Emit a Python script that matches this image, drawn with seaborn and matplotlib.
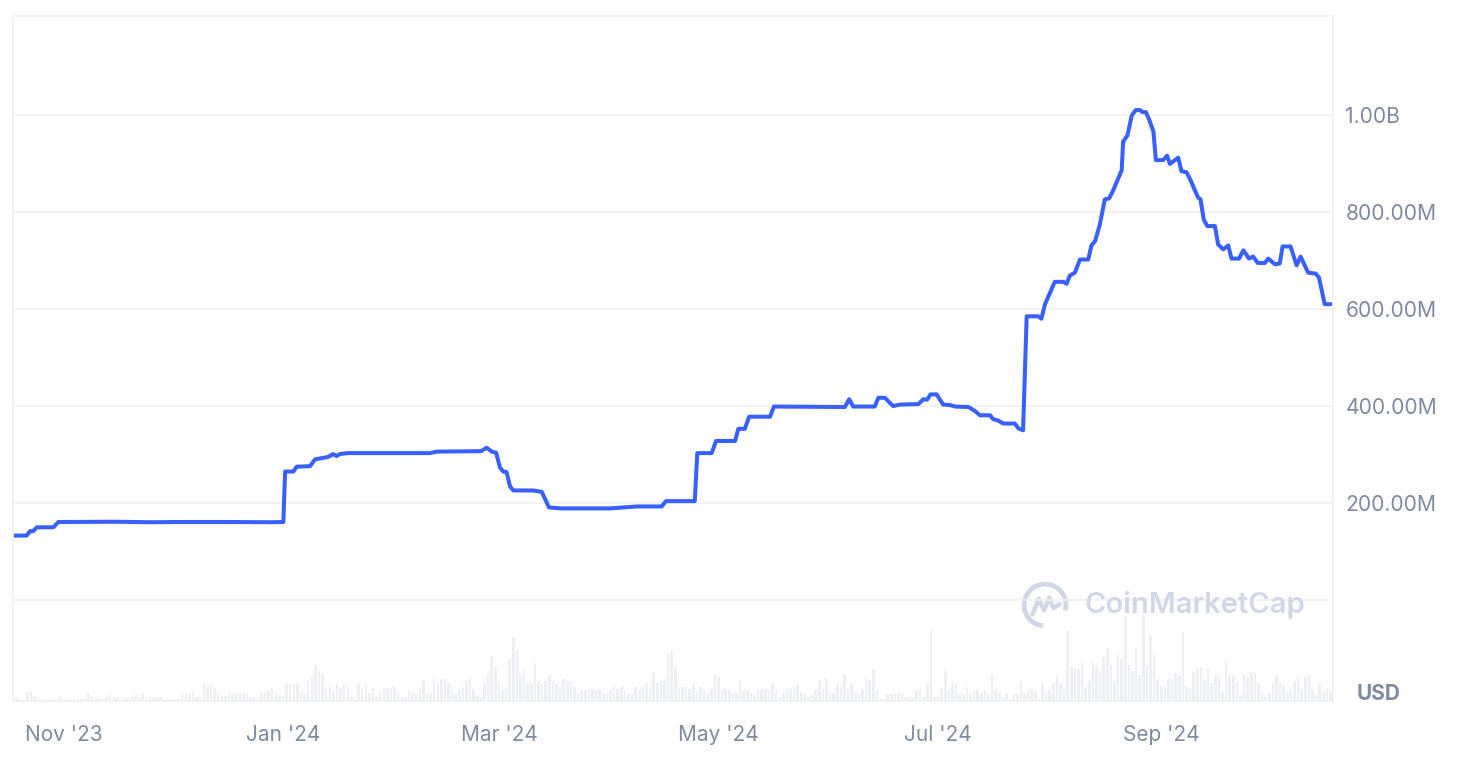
import matplotlib.pyplot as plt
from matplotlib.patches import Arc
import pandas as pd
import seaborn as sns

# market cap line: days after 2023-10-18 where the line bends, value in millions USD
start_day = '2023-10-18'
line_days = [0.0, 3.8, 4.7, 5.6, 6.6, 11.2, 12.6, 28.8, 38.0, 46.3,
             60.0, 72.0, 75.1, 75.6, 77.9, 78.8, 82.5, 83.9, 87.5, 88.9,
             89.9, 90.8, 93.1, 115.8, 117.7, 130.0, 131.6, 133.0, 134.2, 135.3,
             136.2, 137.1, 138.1, 139.0, 144.5, 146.9, 148.9, 152.4, 165.8, 173.3,
             180.2, 181.4, 189.4, 190.1, 194.1, 195.3, 200.6, 201.5, 203.3, 204.5,
             210.3, 211.4, 231.1, 232.3, 233.4, 239.4, 240.4, 242.2, 244.5, 246.4,
             251.5, 252.9, 253.9, 254.9, 256.6, 258.4, 260.3, 261.7, 265.4, 267.2,
             268.6, 271.4, 272.3, 273.7, 275.1, 278.3, 279.3, 280.6, 281.6, 284.8,
             285.7, 286.7, 289.4, 291.8, 292.7, 293.6, 295.0, 296.4, 298.7, 299.6,
             300.6, 301.9, 303.3, 304.5, 305.6, 308.0, 308.4, 309.6, 310.8, 311.9,
             313.1, 313.8, 314.7, 315.6, 316.8, 317.5, 319.5, 320.6, 321.4, 323.7,
             324.6, 326.0, 327.1, 329.2, 329.9, 330.8, 331.8, 333.9, 334.8, 336.2,
             337.6, 338.5, 340.6, 341.8, 343.4, 344.5, 345.8, 347.8, 348.7, 350.6,
             351.9, 352.7, 354.9, 356.6, 357.7, 359.8, 361.9, 362.8, 364.4, 366.0]
line_cap_m = [133, 133, 142, 142, 150, 150, 161, 161.5, 160.5, 161,
              161, 160.5, 161, 265, 265, 275, 276, 290, 295, 301,
              297, 301, 303, 303, 306, 307, 314, 306, 304, 273,
              265, 264, 234, 226, 226, 223, 191, 189, 189, 193,
              193, 204, 204, 303, 303, 328, 328, 353, 353, 378,
              378, 399, 398, 414, 399, 399, 417, 417, 400, 403,
              404, 414, 413, 424, 424, 403, 402, 399, 398, 390,
              381, 381, 373, 370, 364, 364, 354, 350, 585, 585,
              580, 610, 656, 656, 652, 669, 675, 702, 702, 731,
              740, 773, 826, 828, 844, 886, 945, 958, 999, 1010,
              1010, 1006, 1006, 991, 966, 907, 907, 916, 899, 912,
              884, 882, 866, 830, 826, 784, 771, 771, 733, 723,
              731, 704, 704, 721, 704, 708, 695, 695, 704, 692,
              694, 729, 729, 690, 708, 675, 673, 665, 610, 610]

# daily volume bars (relative units), one per day from 2023-10-18
volume = [5, 12, 6, 3, 25, 30, 15, 8, 8, 3, 2, 7, 3, 14, 3, 7, 3, 7, 7, 7,
          7, 25, 15, 12, 5, 7, 12, 18, 13, 12, 3, 7, 12, 12, 18, 13, 25, 7, 12, 12,
          12, 12, 7, 7, 7, 7, 7, 25, 20, 20, 30, 12, 12, 55, 42, 48, 38, 20, 15, 15,
          25,
          25, 25, 25, 25, 18, 12, 10, 10, 25, 25, 30, 38, 25, 18, 18, 55, 50, 50, 55, 25,
          20, 60, 72, 108, 90, 80, 38, 43, 30, 50, 38, 50, 43, 12, 5, 55, 38, 50, 25, 38,
          12, 25, 38, 38, 38, 43, 25, 10, 12, 30, 25, 25, 38, 62, 20, 25, 67, 55, 67, 67,
          55, 43,
          20, 33, 43, 60, 73, 32, 15, 13, 55, 80, 133, 103, 60, 32, 37, 127, 193, 150, 80, 90,
          55, 50, 115, 60, 50, 60, 78, 60, 50, 42, 67, 60, 60, 42, 25, 32, 32, 37, 37, 32,
          32, 20, 20, 32, 48, 37, 42, 30, 20, 20, 42, 32, 42, 55, 42, 85, 55, 60, 67, 140,
          150,
          103, 43, 43, 43, 37, 50, 30, 43, 32, 20, 37, 80, 73, 32, 37, 32, 25, 25, 62, 32,
          32, 25, 18, 32, 37, 37, 32, 50, 32, 13, 25, 37, 37, 43, 50, 25, 20, 13, 20, 32,
          62, 37, 67, 25, 25, 50, 43, 80, 37, 50, 25, 20, 37, 73, 62, 97, 32, 7, 7, 20,
          20,
          23, 23, 20, 12, 12, 13, 32, 32, 13, 55, 215, 13, 13, 37, 90, 32, 50, 50, 20, 20,
          43, 20, 32, 37, 25, 32, 20, 80, 37, 25, 13, 20, 7, 18, 20, 60, 25, 32, 37, 30,
          7, 50, 25, 32, 55, 78, 55, 32, 210, 103, 97, 97, 115, 42, 60, 120, 103, 90, 133, 157,
          108, 60,
          138, 125, 253, 108, 90, 155, 78, 258, 108, 198, 138, 65, 41, 45, 65, 65, 83, 78, 208, 41,
          35, 88, 95, 100, 65, 95, 53, 78, 78, 28, 118, 78, 78, 58, 18, 78, 73, 83, 83, 53,
          23, 13, 23, 53, 75, 53, 45, 25, 35, 58, 68, 35, 71, 75, 33, 18, 53, 28, 35, 31]

tick_months = ['2023-11-01', '2024-01-01', '2024-03-01', '2024-05-01', '2024-07-01', '2024-09-01']
tick_labels = ["Nov '23", "Jan '24", "Mar '24", "May '24", "Jul '24", "Sep '24"]
cap_ticks = [0, 200, 400, 600, 800, 1000]
cap_labels = ['', '200.00M', '400.00M', '600.00M', '800.00M', '1.00B']

sns.set_theme(style='white')
plt.rcParams['font.family'] = ['Inter', 'DejaVu Sans']

grey_text = '#808a9d'
grid_col = '#eff1f4'
start = pd.Timestamp(start_day)
line_dates = start + pd.to_timedelta(line_days, unit='D')
vol_dates = pd.date_range(start, periods=len(volume), freq='D')

fig = plt.figure(figsize=(14.65, 7.65), dpi=100, facecolor='white')
ax = fig.add_axes([13 / 1465, 64 / 765, 1320 / 1465, 685 / 765])
ax_vol = ax.twinx()
ax.set_zorder(ax_vol.get_zorder() + 1)
ax.patch.set_visible(False)

# volume bars at the bottom
ax_vol.bar(vol_dates, volume, width=0.7, color='#edeff4', linewidth=0)
ax_vol.set_ylim(0, 2055)
ax_vol.set_yticks([])
for s in ax_vol.spines.values():
    s.set_visible(False)

# market cap line
sns.lineplot(x=line_dates, y=line_cap_m, ax=ax, color='#3861fb', linewidth=2.9)

ax.set_xlim(start, start + pd.Timedelta(days=366.7))
ax.set_ylim(-208, 1204)
ax.yaxis.tick_right()
ax.set_yticks(cap_ticks, cap_labels)
ax.set_xticks(pd.to_datetime(tick_months), tick_labels)
ax.tick_params(axis='y', length=0, pad=9, labelsize=15.2, labelcolor=grey_text)
ax.tick_params(axis='x', length=0, pad=17, labelsize=15, labelcolor=grey_text)
ax.yaxis.grid(True, color=grid_col, linewidth=1.3)
ax.xaxis.grid(False)
ax.set_xlabel('')
ax.set_ylabel('')
for s in ax.spines.values():
    s.set_color(grid_col)
    s.set_linewidth(1.3)

fig.text(1357 / 1465, 1 - 694 / 765, 'USD', fontsize=15, fontweight='bold',
         color=grey_text, ha='left', va='center')

# watermark
wm = '#d1d7e4'
fig.text(1085 / 1465, 1 - 605 / 765, 'CoinMarketCap', fontsize=21, fontweight='semibold',
         color=wm, ha='left', va='center')
logo = fig.add_axes([1021 / 1465, (765 - 629) / 765, 48 / 1465, 48 / 765])
logo.set_xlim(-1.15, 1.15)
logo.set_ylim(-1.15, 1.15)
logo.axis('off')
logo.add_patch(Arc((0, 0), 2, 2, theta1=-15, theta2=265, color=wm, linewidth=3.5))
logo.plot([-0.6, -0.3, -0.05, 0.2, 0.4, 0.7], [-0.45, 0.3, -0.25, 0.35, -0.15, 0.05],
          color=wm, linewidth=3.2, solid_joinstyle='round', solid_capstyle='round')

fig.savefig('out.png', dpi=100)
